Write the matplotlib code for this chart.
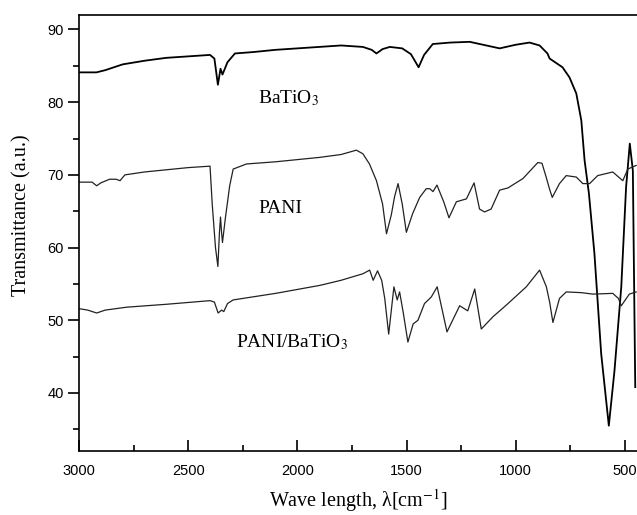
import matplotlib
matplotlib.use("Agg")
import matplotlib.pyplot as plt
from matplotlib.ticker import MultipleLocator

# FTIR spectra (wavenumber in cm-1, transmittance)
bto_w = [3000, 2920, 2880, 2800, 2700, 2600, 2500, 2400, 2380, 2364, 2352, 2343,
         2320, 2286, 2200, 2100, 2000, 1900, 1800, 1700, 1660, 1638, 1610, 1577,
         1520, 1480, 1445, 1420, 1380, 1300, 1211, 1150, 1074, 1000, 937, 891,
         855, 845, 786, 754, 723, 700, 685, 665, 640, 609, 574, 548, 517, 495,
         478, 464, 453]
bto_t = [84.1, 84.1, 84.4, 85.2, 85.7, 86.1, 86.3, 86.5, 86.0, 82.4, 84.6, 83.8,
         85.5, 86.7, 86.9, 87.2, 87.4, 87.6, 87.8, 87.6, 87.2, 86.7, 87.3, 87.6,
         87.4, 86.6, 84.8, 86.5, 88.0, 88.2, 88.3, 87.9, 87.4, 87.9, 88.2, 87.8,
         86.7, 86.0, 84.8, 83.4, 81.2, 77.5, 72.0, 67.4, 59.2, 45.4, 35.5, 43.1,
         54.6, 68.3, 74.3, 70.6, 40.8]

pani_w = [3000, 2940, 2919, 2900, 2860, 2830, 2812, 2790, 2700, 2600, 2500, 2400,
          2390, 2375, 2364, 2357, 2352, 2347, 2343, 2330, 2310, 2294, 2233, 2100,
          2000, 1900, 1800, 1730, 1700, 1670, 1638, 1610, 1592, 1570, 1555, 1539,
          1520, 1501, 1472, 1440, 1410, 1394, 1379, 1361, 1330, 1306, 1272, 1226,
          1191, 1166, 1143, 1113, 1074, 1036, 967, 899, 880, 861, 845, 833, 800,
          769, 723, 693, 662, 625, 556, 510, 487, 449]
pani_t = [69.0, 69.0, 68.5, 68.9, 69.4, 69.4, 69.2, 70.0, 70.4, 70.7, 71.0, 71.2,
          66.0, 60.0, 57.4, 62.0, 64.2, 62.0, 60.7, 64.0, 68.5, 70.8, 71.5, 71.8,
          72.1, 72.4, 72.8, 73.4, 72.9, 71.5, 69.2, 66.0, 61.9, 64.5, 67.0, 68.8,
          66.0, 62.1, 64.7, 66.9, 68.1, 68.1, 67.7, 68.6, 66.3, 64.1, 66.3, 66.7,
          68.9, 65.3, 64.9, 65.3, 67.9, 68.2, 69.5, 71.7, 71.6, 69.7, 68.0, 66.9,
          68.8, 69.9, 69.7, 68.8, 68.8, 69.9, 70.4, 69.2, 70.8, 71.3]

comp_w = [3000, 2960, 2919, 2880, 2782, 2600, 2400, 2380, 2363, 2347, 2337, 2320,
          2294, 2100, 1897, 1800, 1700, 1669, 1653, 1633, 1614, 1600, 1582, 1558,
          1543, 1532, 1515, 1494, 1470, 1448, 1418, 1387, 1360, 1315, 1257, 1220,
          1188, 1158, 1104, 1043, 952, 891, 860, 845, 830, 800, 769, 700, 647,
          556, 530, 517, 480, 449]
comp_t = [51.6, 51.4, 51.0, 51.4, 51.8, 52.2, 52.7, 52.5, 51.0, 51.4, 51.2, 52.3,
          52.8, 53.7, 54.8, 55.5, 56.4, 56.9, 55.5, 56.8, 55.5, 53.0, 48.1, 54.6,
          52.8, 53.9, 51.0, 47.0, 49.5, 50.0, 52.3, 53.2, 54.6, 48.4, 52.0, 51.3,
          54.3, 48.8, 50.5, 52.1, 54.6, 56.9, 54.6, 52.5, 49.7, 53.0, 53.9, 53.8,
          53.6, 53.7, 53.0, 52.0, 53.6, 53.9]

labels = ["BaTiO$_3$", "PANI", "PANI/BaTiO$_3$"]
label_w = [2180, 2180, 2280]
label_t = [80.6, 65.4, 47.0]

plt.rcParams["mathtext.fontset"] = "stix"
serif = "Liberation Serif"

fig = plt.figure(figsize=(6.37, 5.15), dpi=100)
ax = fig.add_axes([0.124, 0.124, 0.876, 0.847])

ax.plot(bto_w, bto_t, color="black", lw=1.3)
ax.plot(pani_w, pani_t, color="#222222", lw=0.9)
ax.plot(comp_w, comp_t, color="#222222", lw=0.9)

for txt, w, t in zip(labels, label_w, label_t):
    ax.text(w, t, txt, family=serif, fontsize=14, ha="left", va="center")

ax.set_xlim(3000, 445)
ax.set_ylim(32, 92)
ax.xaxis.set_major_locator(MultipleLocator(500))
ax.xaxis.set_minor_locator(MultipleLocator(250))
ax.yaxis.set_major_locator(MultipleLocator(10))
ax.yaxis.set_minor_locator(MultipleLocator(5))

ax.spines["right"].set_visible(False)
for s in ["left", "top", "bottom"]:
    ax.spines[s].set_linewidth(1.2)

ax.tick_params(axis="x", which="major", direction="in", length=8, width=1.2,
               pad=9, labelsize=10.5)
ax.tick_params(axis="x", which="minor", direction="in", length=4, width=1.2)
ax.tick_params(axis="y", which="major", direction="out", length=8, width=1.2,
               pad=3, labelsize=10.5)
ax.tick_params(axis="y", which="minor", direction="out", length=4, width=1.2)
for lab in ax.get_xticklabels() + ax.get_yticklabels():
    lab.set_family("Liberation Sans")

ax.set_xlabel("Wave length, λ[cm$^{-1}$]", family=serif, fontsize=14.5)
ax.set_ylabel("Transmittance (a.u.)", family=serif, fontsize=14.5)
ax.xaxis.set_label_coords(0.50, -0.083)
ax.yaxis.set_label_coords(-0.085, 0.54)

fig.savefig("out.png", dpi=100)
